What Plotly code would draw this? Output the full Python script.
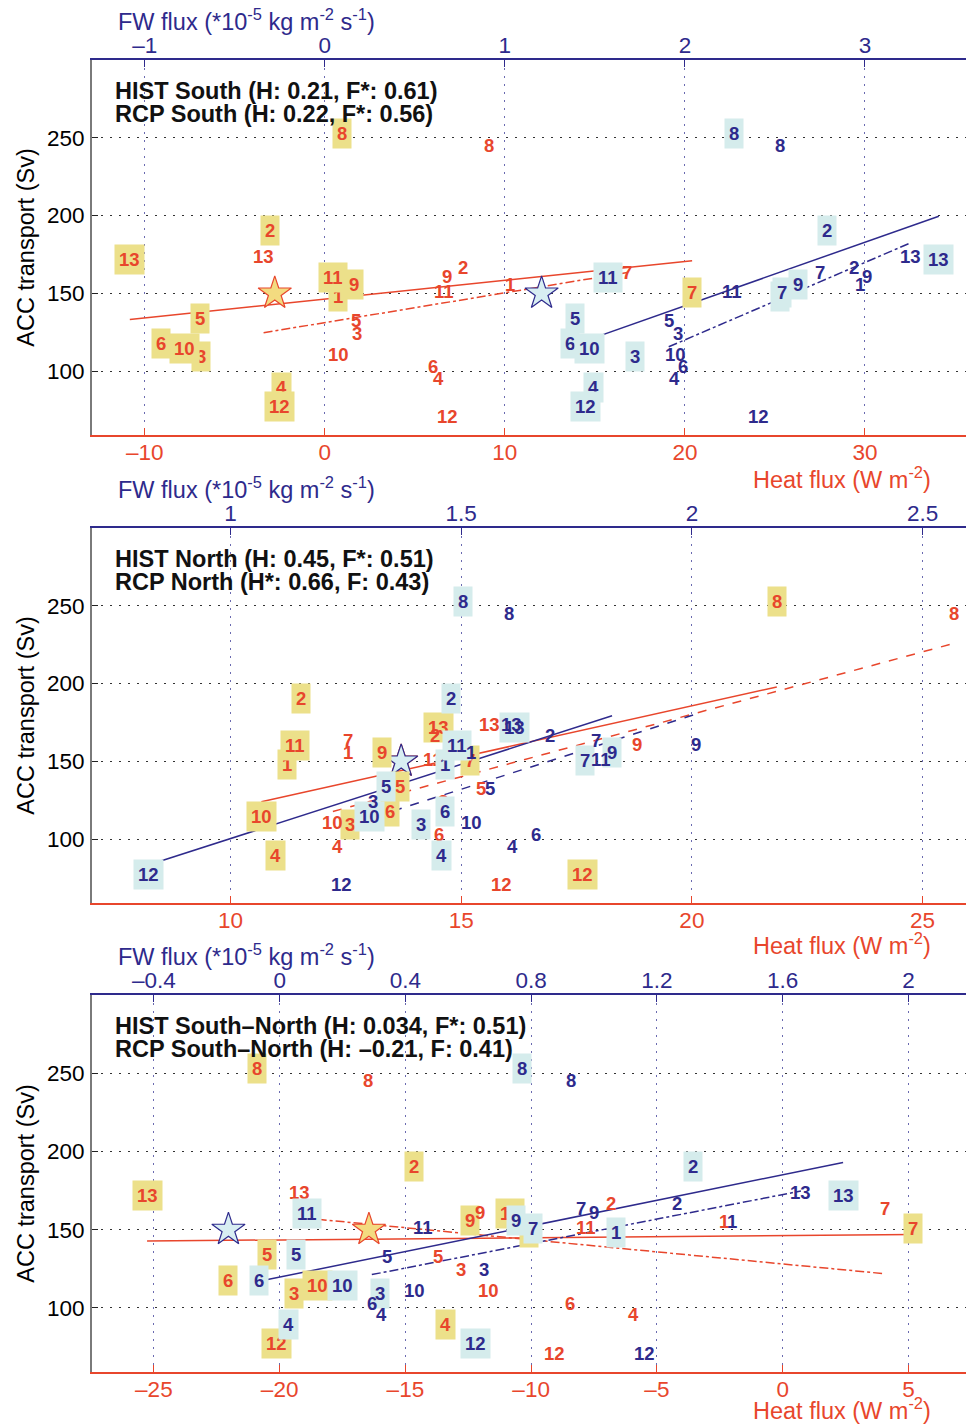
import numpy as np
import plotly.graph_objects as go

# ---------------- data ----------------
models = [str(i) for i in range(1, 14)]

# ACC transport (Sv) per model
acc_hist = [148, 190.5, 109.3, 89.5, 134, 117.5, 150.8, 253, 156, 114.3, 160.5, 77, 172]
acc_rcp = [155.5, 166.5, 124.3, 95.5, 132.8, 102.8, 163.3, 245.3, 160.8, 110.8, 151.5, 70.8, 174]

# South
heat_hist_s = [0.74, -3.06, -6.85, -2.4, -6.94, -9.1, 20.4, 0.94, 1.6, -7.8, 0.45, -2.5, -10.83]
heat_rcp_s = [10.3, 7.65, 1.8, 6.3, 1.72, 6.0, 16.8, 9.1, 6.8, 0.74, 6.6, 6.8, -3.4]
fw_hist_s = [2.53, 2.79, 1.72, 1.49, 1.39, 1.36, 2.54, 2.27, 2.63, 1.47, 1.57, 1.45, 3.41]
fw_rcp_s = [2.97, 2.94, 1.96, 1.94, 1.91, 1.99, 2.75, 2.53, 3.01, 1.95, 2.26, 2.41, 3.25]

# North
heat_hist_n = [11.22, 11.52, 12.6, 10.97, 13.67, 13.46, 15.2, 21.84, 13.29, 10.67, 11.39, 17.64, 14.5]
heat_rcp_n = [12.54, 14.43, 14.6, 12.33, 15.44, 14.51, 12.54, 25.68, 18.81, 12.22, 14.4, 15.87, 15.62]
fw_hist_n = [1.464, 1.477, 1.414, 1.457, 1.338, 1.464, 1.768, 1.505, 1.827, 1.302, 1.49, 0.822, 1.616]
fw_rcp_n = [1.522, 1.692, 1.309, 1.612, 1.562, 1.663, 1.793, 1.603, 2.008, 1.522, 1.804, 1.241, 1.609]

# South - North
heat_hist_sn = [-10.1, -14.64, -19.43, -13.42, -20.49, -22.04, 5.2, -20.89, -12.43, -18.51, -10.85, -20.12, -25.27]
heat_rcp_sn = [-2.32, -6.82, -12.8, -5.94, -13.72, -8.47, 4.07, -16.5, -12.04, -11.7, -7.8, -9.09, -19.2]
fw_hist_sn = [1.069, 1.314, 0.318, 0.027, 0.053, -0.066, 0.805, 0.771, 0.752, 0.2, 0.087, 0.624, 1.792]
fw_rcp_sn = [1.439, 1.264, 0.649, 0.323, 0.34, 0.293, 0.958, 0.927, 1.0, 0.43, 0.455, 1.161, 1.658]

# observations (stars)
obs_heat = [-2.78, 13.7, -16.45]
obs_fw = [1.204, 1.37, -0.163]
obs_acc = [150, 150, 150]

titles_hist = ["HIST South (H: 0.21, F*: 0.61)", "HIST North (H: 0.45, F*: 0.51)",
               "HIST South\u2013North (H: 0.034, F*: 0.51)"]
titles_rcp = ["RCP South (H: 0.22, F*: 0.56)", "RCP North (H*: 0.66, F: 0.43)",
              "RCP South\u2013North (H: \u20130.21, F: 0.41)"]

heat_ticks = [[-10, 0, 10, 20, 30], [10, 15, 20, 25], [-25, -20, -15, -10, -5, 0, 5]]
fw_ticks = [[-1, 0, 1, 2, 3], [1, 1.5, 2, 2.5], [-0.4, 0, 0.4, 0.8, 1.2, 1.6, 2]]
fw_ticktext = [["\u20131", "0", "1", "2", "3"], ["1", "1.5", "2", "2.5"],
               ["\u20130.4", "0", "0.4", "0.8", "1.2", "1.6", "2"]]
heat_ticktext = [["\u201310", "0", "10", "20", "30"], ["10", "15", "20", "25"],
                 ["\u201325", "\u201320", "\u201315", "\u201310", "\u20135", "0", "5"]]
acc_ticks = [100, 150, 200, 250]

# ---------------- style / layout ----------------
W, H = 966, 1425
RED = '#e8462c'
BLUE = '#2e2a8c'
YBOX = '#ece08a'
BBOX = '#d5ecec'
FONT = 'Liberation Sans, Arial, Helvetica, sans-serif'
TICK = 22.5
TITLE = 23.5

heat_range = [[-12.93, 35.61], [7.0, 25.94], [-27.46, 7.29]]
fw_range = [[-1.293, 3.561], [0.700, 2.594], [-0.597, 2.183]]
y_px = [(60, 435), (528, 903), (995, 1372)]  # top, bottom in pixels
heat_title_off = [43, 41, 37]
x_left_px = 92

panels = [
    (heat_hist_s, heat_rcp_s, fw_hist_s, fw_rcp_s),
    (heat_hist_n, heat_rcp_n, fw_hist_n, fw_rcp_n),
    (heat_hist_sn, heat_rcp_sn, fw_hist_sn, fw_rcp_sn),
]
rcp_dash = ['dashdot', 'dash', 'dashdot']

fig = go.Figure()
annotations = []
layout = dict(
    width=W, height=H, margin=dict(l=0, r=0, t=0, b=0, autoexpand=False),
    paper_bgcolor='white', plot_bgcolor='white', showlegend=False,
    font=dict(family=FONT, size=TICK, color='black'),
)

for p, (hh, hr, fh, fr) in enumerate(panels):
    xb = 'x' if p == 0 else f'x{2 * p + 1}'
    xt = f'x{2 * p + 2}'
    yy = 'y' if p == 0 else f'y{p + 1}'
    xb_key = 'xaxis' if p == 0 else f'xaxis{2 * p + 1}'
    xt_key = f'xaxis{2 * p + 2}'
    yy_key = 'yaxis' if p == 0 else f'yaxis{p + 1}'
    top, bot = y_px[p]
    ydom = [1 - bot / H, 1 - top / H]

    layout[xb_key] = dict(
        domain=[x_left_px / W, 1], anchor=yy, side='bottom', range=heat_range[p],
        tickvals=heat_ticks[p], ticktext=heat_ticktext[p], showgrid=False, zeroline=False,
        showline=True, linecolor=RED, linewidth=1.5, ticks='inside', ticklen=7,
        tickcolor=RED, tickwidth=1.2, tickfont=dict(color=RED, size=TICK, family=FONT),
        ticklabelstandoff=-4, automargin=False,
    )
    layout[xt_key] = dict(
        overlaying=xb, anchor=yy, side='top', range=fw_range[p],
        tickvals=fw_ticks[p], ticktext=fw_ticktext[p], showgrid=True,
        gridcolor='#6a6ab0', griddash='2px,6px', gridwidth=1, zeroline=False,
        showline=True, linecolor=BLUE, linewidth=1.5, ticks='inside', ticklen=7,
        tickcolor=BLUE, tickwidth=1.2, tickfont=dict(color=BLUE, size=TICK, family=FONT),
        ticklabelstandoff=-4, automargin=False,
    )
    layout[yy_key] = dict(
        domain=ydom, anchor=xb, range=[59, 300], tickvals=acc_ticks,
        showgrid=True, gridcolor='#333333', griddash='2px,7px', gridwidth=1,
        zeroline=False, showline=True, linecolor='#7a7a7a', linewidth=2,
        ticks='inside', ticklen=6, tickcolor='#222', tickfont=dict(size=TICK, family=FONT),
        ticklabelstandoff=1, automargin=False,
        title=dict(text='ACC transport (Sv)', font=dict(size=TITLE, family=FONT), standoff=6),
    )

    # regression lines
    series = [
        (hh, acc_hist, xb, RED, 'solid'),
        (hr, acc_rcp, xb, RED, rcp_dash[p]),
        (fh, acc_hist, xt, BLUE, 'solid'),
        (fr, acc_rcp, xt, BLUE, rcp_dash[p]),
    ]
    for xs, ys, xa, col, dash in series:
        xs = np.asarray(xs, float)
        ys = np.asarray(ys, float)
        a, b = np.polyfit(xs, ys, 1)
        xl = np.array([xs.min(), xs.max()])
        fig.add_trace(go.Scatter(x=xl, y=a * xl + b, mode='lines', xaxis=xa, yaxis=yy,
                                 line=dict(color=col, width=1.5, dash=dash),
                                 hoverinfo='skip'))

    # observation stars
    fig.add_trace(go.Scatter(x=[obs_heat[p]], y=[obs_acc[p]], mode='markers', xaxis=xb, yaxis=yy,
                             marker=dict(symbol='star', size=25, color='#f3db80',
                                         line=dict(color=RED, width=1.2))))
    fig.add_trace(go.Scatter(x=[obs_fw[p]], y=[obs_acc[p]], mode='markers', xaxis=xt, yaxis=yy,
                             marker=dict(symbol='star', size=25, color='#d8eef2',
                                         line=dict(color=BLUE, width=1.2))))

    # model number labels
    label_sets = [
        (hh, acc_hist, xb, RED, YBOX),
        (hr, acc_rcp, xb, RED, None),
        (fh, acc_hist, xt, BLUE, BBOX),
        (fr, acc_rcp, xt, BLUE, None),
    ]
    for xs, ys, xa, col, bg in label_sets:
        for m, xv, yv in zip(models, xs, ys):
            ann = dict(x=xv, y=yv, xref=xa, yref=yy, text=m, showarrow=False,
                       font=dict(family=FONT, size=18.5, color=col, weight='bold'),
                       xanchor='center', yanchor='middle')
            if bg:
                ann.update(bgcolor=bg, borderpad=4)
            annotations.append(ann)

    # panel titles
    ytxt = top + 31
    annotations.append(dict(xref='paper', yref='paper', x=(x_left_px + 21) / W, y=1 - ytxt / H,
                            text=titles_hist[p], showarrow=False, xanchor='left', yanchor='middle',
                            font=dict(family=FONT, size=TITLE, color='#111', weight='bold')))
    annotations.append(dict(xref='paper', yref='paper', x=(x_left_px + 21) / W, y=1 - (ytxt + 23) / H,
                            text=titles_rcp[p], showarrow=False, xanchor='left', yanchor='middle',
                            font=dict(family=FONT, size=TITLE, color='#111', weight='bold')))
    # axis titles
    annotations.append(dict(xref='paper', yref='paper', x=116 / W, y=1 - (top - 40) / H,
                            text='FW flux (*10<sup>-5</sup> kg m<sup>-2</sup> s<sup>-1</sup>)',
                            showarrow=False, xanchor='left', yanchor='middle',
                            font=dict(family=FONT, size=TITLE, color=BLUE)))
    annotations.append(dict(xref='paper', yref='paper', x=933 / W, y=1 - (bot + heat_title_off[p]) / H,
                            text='Heat flux (W m<sup>-2</sup>)',
                            showarrow=False, xanchor='right', yanchor='middle',
                            font=dict(family=FONT, size=TITLE, color=RED)))

layout['annotations'] = annotations
fig.update_layout(**layout)
fig.write_html("out.html", config={'displayModeBar': False},
               post_script="document.body.style.margin='0';document.body.style.overflow='hidden';")
